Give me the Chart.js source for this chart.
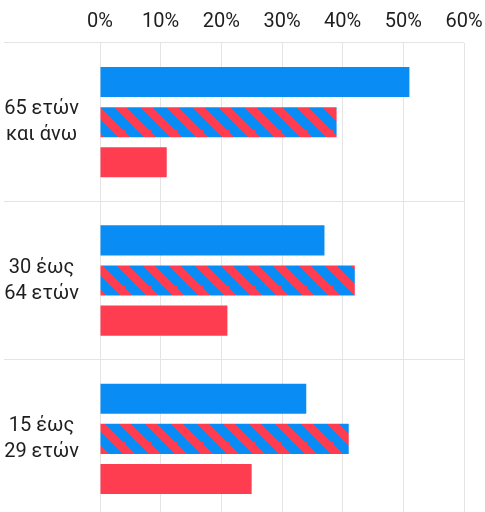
<!DOCTYPE html>
<html>
<head>
<meta charset="utf-8">
<script src="https://cdn.jsdelivr.net/npm/chart.js@4"></script>
<style>
  html, body { margin: 0; padding: 0; background: #fff; overflow: hidden; }
  #wrap { width: 485px; height: 518px; }
</style>
</head>
<body>
<div id="wrap"><canvas id="ageChart"></canvas></div>
<script>
// Data
const categories = [['65 ετών', 'και άνω'], ['30 έως', '64 ετών'], ['15 έως', '29 ετών']];
const blueValues = [51, 37, 34];
const stripedValues = [39, 42, 41];
const redValues = [11, 21, 25];
const tickLabels = ['0%', '10%', '20%', '30%', '40%', '50%', '60%'];

const BLUE = '#0A8CF5';
const RED = '#FF3D50';
const FONT = "Roboto, 'Liberation Sans', sans-serif";

// Diagonal blue/red stripes
function makeStripes() {
    const s = 26;
    const c = document.createElement('canvas');
    c.width = s; c.height = s;
    const g = c.getContext('2d');
    g.fillStyle = RED;
    g.fillRect(0, 0, s, s);
    g.strokeStyle = BLUE;
    g.lineWidth = 10;
    [-s, 0, s].forEach(off => {
        g.beginPath();
        g.moveTo(off - 2, -2);
        g.lineTo(off + s + 2, s + 2);
        g.stroke();
    });
    return g.createPattern(c, 'repeat');
}

const ctx = document.getElementById('ageChart').getContext('2d');
const ageChart = new Chart(ctx, {
    type: 'bar',
    data: {
        labels: categories,
        datasets: [
            { data: blueValues, backgroundColor: BLUE },
            { data: stripedValues, backgroundColor: makeStripes() },
            { data: redValues, backgroundColor: RED }
        ]
    },
    options: {
        indexAxis: 'y',
        responsive: true,
        maintainAspectRatio: false,
        animation: false,
        categoryPercentage: 0.76,
        barPercentage: 0.75,
        layout: { padding: { left: 0, right: 21, top: 0, bottom: 0 } },
        plugins: {
            legend: { display: false },
            tooltip: { enabled: false }
        },
        scales: {
            x: {
                position: 'top',
                min: 0,
                max: 60,
                afterFit: axis => {
                    axis.height = 43;
                    axis.paddingLeft = 0;
                    axis.paddingRight = 0;
                },
                grid: { color: '#e4e4e4', drawTicks: false },
                border: { display: false },
                ticks: {
                    stepSize: 10,
                    padding: 9,
                    color: '#1e1e1e',
                    font: { family: FONT, size: 20 },
                    callback: (v, i) => tickLabels[i]
                }
            },
            y: {
                afterFit: axis => { axis.width = 100; },
                grid: { color: '#e4e4e4', offset: true, tickLength: 96 },
                border: { display: false },
                ticks: {
                    crossAlign: 'center',
                    padding: -75,
                    color: '#1e1e1e',
                    font: { family: FONT, size: 20, lineHeight: 1.3 }
                }
            }
        }
    }
});
</script>
</body>
</html>
